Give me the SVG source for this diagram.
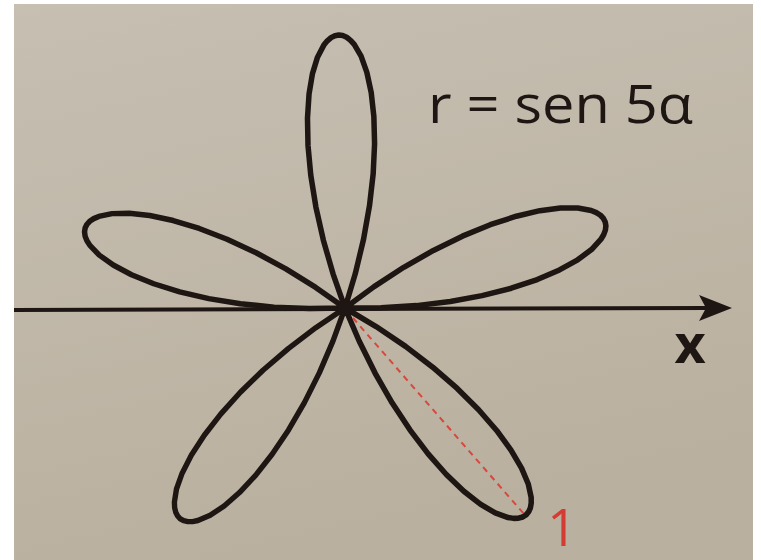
<svg xmlns="http://www.w3.org/2000/svg" xmlns:xlink="http://www.w3.org/1999/xlink" width="761" height="560" viewBox="0 0 761 560">
  <defs>
    <linearGradient id="paper" x1="0" y1="0" x2="0.3" y2="1">
      <stop offset="0" stop-color="#c6bfb2"/>
      <stop offset="1" stop-color="#bab09f"/>
    </linearGradient>
    <path id="petal" d="M0,0 L34.2,-11.1 L68.3,-20.1 L101.6,-26.8 L133.5,-31.2 L163.4,-33.3 L190.7,-33.2 L214.7,-31.1 L235.1,-27.2 L251.4,-21.8 L263.3,-15.2 L267.5,-11.6 L270.6,-7.8 L272.4,-3.9 L273,0 L272.4,3.9 L270.6,7.8 L267.5,11.6 L263.3,15.2 L251.4,21.8 L235.1,27.2 L214.7,31.1 L190.7,33.2 L163.4,33.3 L133.5,31.2 L101.6,26.8 L68.3,20.1 L34.2,11.1 Z"/>
  </defs>
  <style>
    .curve { fill: none; stroke: #1e1612; stroke-width: 5.5; stroke-linejoin: round; }
    .label { font-family: "Open Sans", "Liberation Sans", Arial, sans-serif; }
  </style>
  <rect x="0" y="0" width="761" height="560" fill="#ffffff"/>
  <rect x="14" y="4" width="739" height="556" fill="url(#paper)"/>

  <g id="axis">
    <line x1="14" y1="310" x2="708" y2="308" stroke="#1e1612" stroke-width="4"/>
    <polygon points="732,308 699,295 706,308 699,321" fill="#1e1612"/>
    <text class="label" x="690" y="363" font-size="54" font-weight="bold" text-anchor="middle" fill="#1e1612">x</text>
  </g>

  <g id="rose">
    <use xlink:href="#petal" class="curve" transform="translate(345,308) rotate(-91.3)"/>
    <use xlink:href="#petal" class="curve" transform="translate(345,308) rotate(197.1) scale(0.996)"/>
    <use xlink:href="#petal" class="curve" transform="translate(345,308) rotate(-18.3) scale(1.004)"/>
    <use xlink:href="#petal" class="curve" transform="translate(345,308) rotate(128) scale(0.98)"/>
    <use xlink:href="#petal" class="curve" transform="translate(345,308) rotate(48.8) scale(1.007)"/>
    <circle cx="345" cy="308" r="8" fill="#1e1612"/>
  </g>

  <g id="radius">
    <line x1="353" y1="318" x2="524" y2="514" stroke="#d8473c" stroke-width="2" stroke-dasharray="6,5"/>
    <text class="label" x="562" y="546" font-size="52" font-weight="500" text-anchor="middle" fill="#d43b33">1</text>
  </g>

  <g id="title">
    <text class="label" x="428" y="123" font-size="53" font-weight="500" fill="#1e1612" textLength="265" lengthAdjust="spacingAndGlyphs">r = sen 5α</text>
  </g>
</svg>
